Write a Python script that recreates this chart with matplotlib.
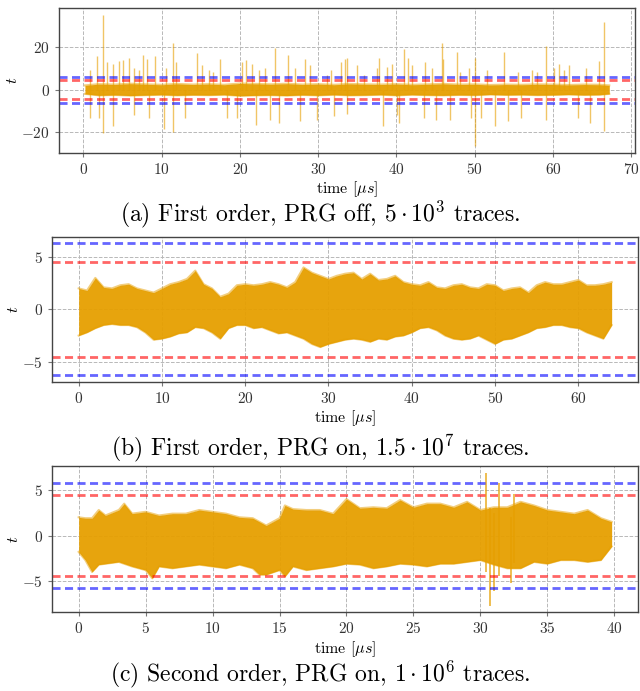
import numpy as np
import matplotlib
matplotlib.use("Agg")
import matplotlib.pyplot as plt

plt.rcParams["font.family"] = "serif"
plt.rcParams["font.serif"] = ["cmr10"]
plt.rcParams["mathtext.fontset"] = "cm"
plt.rcParams["axes.formatter.use_mathtext"] = True

ORANGE = "#E69F00"

# ---------------- data ----------------
# Panel (a): dense core band envelope + individual spikes
a_core_x = [0.2, 2, 4, 6, 8, 10, 12, 14, 16, 18, 20, 22, 24, 26, 28, 30, 32, 34,
            36, 38, 40, 42, 44, 46, 48, 50, 52, 54, 56, 58, 60, 62, 64, 66, 67.2]
a_core_hi = [2.0, 2.6, 2.4, 2.8, 2.5, 2.3, 2.7, 2.4, 2.6, 2.3, 2.9, 2.7, 2.5, 2.8, 2.4, 2.6,
             2.3, 2.7, 2.5, 2.4, 2.6, 2.3, 2.5, 2.7, 2.4, 2.5, 2.2, 2.4, 2.3, 2.5, 2.4,
             2.2, 2.4, 2.3, 2.0]
a_core_lo = [-2.0, -2.7, -2.5, -2.8, -2.6, -2.4, -2.7, -2.5, -2.6, -2.4, -2.9, -2.7, -2.6,
             -2.8, -2.5, -2.7, -2.4, -2.7, -2.6, -2.4, -2.7, -2.4, -2.6, -2.7, -2.5, -2.6,
             -2.3, -2.5, -2.4, -2.6, -2.5, -2.3, -2.5, -2.4, -2.0]
a_up_x = [0.9, 1.8, 2.55, 3.0, 3.8, 4.5, 5.1, 5.8, 6.5, 7.1, 7.6, 8.1, 9.1, 10.6, 11.5,
          11.9, 14.5, 15.2, 16.0, 16.6, 17.5, 20.3, 20.8, 21.5, 22.4, 23.2, 24.5, 26.1,
          27.1, 28.3, 29.0, 31.1, 31.6, 32.9, 33.4, 33.7, 35.0, 35.8, 37.5, 37.8, 38.8,
          39.5, 41.0, 41.45, 42.05, 43.7, 44.6, 45.8, 46.0, 47.8, 48.1, 49.3, 50.05, 51.6,
          53.8, 55.6, 57.3, 58.0, 59.1, 60.1, 60.8, 61.45, 62.1, 64.2, 65.85, 66.5]
a_up_y = [9.2, 15.9, 35.2, 13.0, 12.3, 13.4, 13.9, 15.0, 10.0, 9.2, 16.5, 14.6, 15.7, 10.0,
          22.0, 13.0, 17.3, 11.5, 9.2, 8.4, 14.6, 13.0, 14.0, 12.3, 9.2, 10.0, 19.6, 16.2,
          10.0, 14.2, 11.7, 6.9, 9.2, 13.0, 14.6, 15.0, 11.5, 6.9, 10.0, 15.0, 10.7,
          12.0, 19.0, 15.0, 11.5, 13.0, 10.0, 22.0, 14.6, 17.5, 8.4, 10.0, 15.0, 9.2,
          17.8, 8.4, 9.2, 8.4, 20.6, 10.0, 12.3, 9.2, 11.8, 10.0, 13.6, 31.8]
a_dn_x = [0.9, 2.0, 2.55, 3.8, 6.5, 8.4, 10.3, 11.4, 13.0, 18.3, 19.6, 22.0, 23.9, 25.0,
          27.7, 29.8, 32.0, 33.7, 38.3, 40.1, 40.3, 43.5, 45.0, 46.9, 49.5, 50.05, 50.8,
          52.6, 54.2, 55.9, 59.1, 63.2, 64.8, 66.5]
a_dn_y = [-13.4, -13.4, -20.4, -17.3, -11.8, -13.4, -18.5, -20.0, -13.4, -13.4, -13.4,
          -16.5, -14.2, -15.7, -15.0, -14.2, -12.6, -11.5, -17.3, -11.8, -15.7, -13.4,
          -14.2, -14.2, -13.4, -26.6, -13.4, -17.3, -15.0, -13.4, -14.2, -13.4, -15.7, -19.3]
a_thr_blue = 6.1

# Panel (b): envelope of the trace
b_x = list(range(0, 65))
b_hi = [2.0, 1.8, 3.0, 2.1, 2.0, 2.3, 2.4, 2.0, 1.8, 1.6, 2.0, 2.4, 2.6, 2.9, 3.7, 2.4,
        2.0, 1.2, 1.5, 2.3, 2.4, 2.3, 2.4, 2.6, 2.4, 2.1, 2.6, 4.0, 3.5, 3.2, 2.9, 3.2,
        3.4, 3.5, 2.9, 3.4, 2.8, 2.9, 3.2, 2.6, 2.4, 2.3, 2.6, 2.1, 2.0, 2.3, 2.4, 2.1,
        2.0, 2.4, 2.3, 1.8, 2.0, 2.1, 1.6, 2.3, 2.6, 2.4, 2.4, 2.6, 2.8, 2.3, 2.3, 2.4, 2.6]
b_lo = [-2.5, -2.2, -1.8, -1.5, -1.4, -1.5, -1.5, -1.7, -2.2, -2.9, -2.8, -2.6, -2.3,
        -2.2, -1.7, -1.8, -2.2, -2.8, -1.8, -1.5, -1.5, -1.8, -1.7, -2.0, -2.3, -2.2,
        -2.5, -2.8, -3.3, -3.6, -3.3, -3.1, -2.9, -2.8, -2.9, -3.1, -2.8, -2.9, -2.6,
        -2.5, -2.2, -1.8, -1.7, -2.0, -2.5, -2.8, -2.9, -2.8, -2.5, -2.9, -3.3, -2.9,
        -2.8, -2.5, -2.2, -1.8, -1.7, -1.5, -1.5, -1.7, -1.8, -2.2, -2.5, -2.8, -1.5]
b_thr_blue = 6.3

# Panel (c): envelope of the trace + isolated spikes
c_x = [0, 0.5, 1, 1.5, 2, 3, 3.4, 4, 5, 5.5, 6, 7, 8, 9, 10, 11, 12, 13, 13.5, 14, 15,
       15.4, 16, 17, 18, 19, 20, 21, 22, 23, 24, 25, 26, 27, 28, 29, 30, 31, 32, 33, 34,
       35, 36, 37, 38, 39, 39.8]
c_hi = [2.0, 1.9, 1.9, 2.8, 2.2, 2.8, 3.5, 2.4, 2.6, 2.4, 2.2, 2.4, 2.4, 2.8, 2.6, 2.4,
        2.0, 1.9, 1.5, 1.1, 1.9, 3.3, 2.9, 2.8, 2.8, 2.4, 4.0, 3.0, 3.1, 3.0, 3.9, 3.1,
        3.5, 3.5, 3.1, 3.7, 2.8, 3.1, 3.1, 3.7, 3.3, 2.8, 2.6, 2.4, 2.8, 1.9, 1.5]
c_lo = [-1.8, -2.7, -4.0, -3.2, -3.1, -2.9, -3.1, -3.4, -3.8, -4.7, -3.4, -3.6, -3.4,
        -3.2, -3.4, -3.6, -3.2, -3.6, -4.3, -4.3, -3.8, -4.5, -3.4, -3.8, -3.6, -3.4,
        -3.1, -3.2, -3.6, -3.4, -3.1, -3.2, -3.4, -3.1, -3.1, -2.9, -2.7, -3.2, -3.6,
        -3.6, -2.9, -3.1, -2.7, -2.7, -2.9, -2.7, -1.2]
c_spk_x = [30.4, 30.7, 31.0, 31.4, 32.3, 32.5]
c_spk_hi = [6.9, 3.0, 2.5, 5.8, 2.0, 4.6]
c_spk_lo = [-4.0, -7.7, -6.1, -4.5, -5.2, -3.0]
c_thr_blue = 5.75

thr_red = 4.5

captions = [r"(a) First order, PRG off, $5\cdot 10^3$ traces.",
            r"(b) First order, PRG on, $1.5\cdot 10^7$ traces.",
            r"(c) Second order, PRG on, $1\cdot 10^6$ traces."]
xticks = [list(range(0, 71, 10)), list(range(0, 61, 10)), list(range(0, 41, 5))]
yticks = [[-20, 0, 20], [-5, 0, 5], [-5, 0, 5]]

# ---------------- figure ----------------
fig = plt.figure(figsize=(6.4, 6.91), dpi=100)
W, H = 640, 691
boxes = [(58.7, 8.3, 635.5, 152.7), (52, 236.7, 638.3, 382), (52, 466, 638.3, 612.3)]
cap_y = [214, 448, 674]
axes = []
for (l, t, r, b) in boxes:
    axes.append(fig.add_axes([l / W, 1 - b / H, (r - l) / W, (b - t) / H]))


def style(ax, xt, yt):
    ax.grid(True, color="#b8b8b8", linestyle="--", linewidth=0.7)
    ax.set_axisbelow(True)
    for s in ax.spines.values():
        s.set_color("#444444")
        s.set_linewidth(1.0)
    ax.tick_params(colors="#333333", labelsize=11, length=3, width=0.8,
                   color="#777777")
    ax.set_xticks(xt)
    ax.set_yticks(yt)
    ax.set_xlabel(r"time [$\mu s$]", fontsize=11.5, labelpad=2)
    ax.set_ylabel(r"$t$", fontsize=11.5, labelpad=1)


def thresholds(ax, blue):
    for v in (blue, -blue):
        ax.axhline(v, color="blue", alpha=0.6, lw=2, dashes=(2.9, 1.6))
    for v in (thr_red, -thr_red):
        ax.axhline(v, color="red", alpha=0.6, lw=2, dashes=(2.9, 1.6))


def trace(ax, x, lo, hi, edge_lw):
    ax.fill_between(x, lo, hi, color=ORANGE, lw=0, alpha=0.95)
    ax.plot(x, hi, color=ORANGE, lw=edge_lw, alpha=0.5)
    ax.plot(x, lo, color=ORANGE, lw=edge_lw, alpha=0.5)


# (a)
ax = axes[0]
ax.vlines(a_up_x, 0, a_up_y, color=ORANGE, alpha=0.6, lw=1)
ax.vlines(a_dn_x, 0, a_dn_y, color=ORANGE, alpha=0.6, lw=1)
trace(ax, a_core_x, a_core_lo, a_core_hi, 1.5)
thresholds(ax, a_thr_blue)

# (b)
ax = axes[1]
trace(ax, b_x, b_lo, b_hi, 1.5)
thresholds(ax, b_thr_blue)

# (c)
ax = axes[2]
trace(ax, c_x, c_lo, c_hi, 1.5)
ax.vlines(c_spk_x, c_spk_lo, c_spk_hi, color=ORANGE, alpha=0.8, lw=1.2)
thresholds(ax, c_thr_blue)

for ax, xt, yt in zip(axes, xticks, yticks):
    style(ax, xt, yt)

for cap, cy in zip(captions, cap_y):
    fig.text(0.5, 1 - cy / H, cap, ha="center", va="center", fontsize=17)

fig.savefig("out.png", dpi=100)
